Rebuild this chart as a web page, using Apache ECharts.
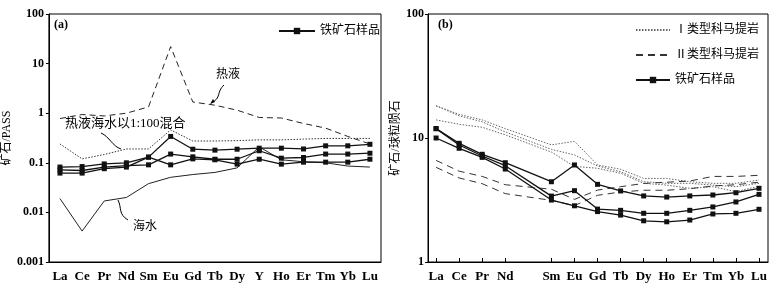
<!DOCTYPE html>
<html><head><meta charset="utf-8">
<script src="https://cdn.jsdelivr.net/npm/echarts@6/dist/echarts.min.js"></script>
<style>html,body{margin:0;padding:0;background:#fff}#c{width:777px;height:284px}</style>
</head><body><div id="c"></div>
<script>
// ---- Panel (a): PAAS-normalised ----
const REE_A = ['La','Ce','Pr','Nd','Sm','Eu','Gd','Tb','Dy','Y','Ho','Er','Tm','Yb','Lu'];
const yTicksA = ['0.001','0.01','0.1','1','10','100'];
const hydrothermal = [0.78,0.94,0.88,1.0,1.34,22,1.68,1.45,1.15,0.82,0.8,0.62,0.5,0.34,0.24];
const mixture = [0.24,0.12,0.147,0.19,0.19,0.46,0.275,0.275,0.28,0.29,0.29,0.30,0.31,0.31,0.31];
const seawater = [0.019,0.0042,0.017,0.020,0.038,0.051,0.058,0.064,0.079,0.21,0.115,0.105,0.1,0.086,0.082];
const oreA1 = [0.082,0.084,0.095,0.1,0.13,0.34,0.188,0.18,0.188,0.197,0.197,0.19,0.22,0.22,0.236];
const oreA2 = [0.072,0.07,0.082,0.088,0.091,0.15,0.132,0.118,0.118,0.175,0.124,0.128,0.15,0.15,0.156];
const oreA3 = [0.062,0.062,0.076,0.082,0.13,0.091,0.12,0.115,0.094,0.118,0.094,0.103,0.103,0.103,0.118];

// ---- Panel (b): chondrite-normalised ----
const REE_B = ['La','Ce','Pr','Nd','Sm','Eu','Gd','Tb','Dy','Ho','Er','Tm','Yb','Lu'];
const atomicB = [57,58,59,60,62,63,64,65,66,67,68,69,70,71];
const yTicksB = ['1','10','100'];
const komI1 = [18.2,15.5,14,11.9,8.8,9.4,6.06,5.6,4.72,4.72,4.44,4.31,4.31,4.58];
const komI2 = [18.2,15.1,13.5,11.2,8.1,7.3,5.95,5.35,4.44,4.31,4.31,4.17,4.05,4.31];
const komI3 = [14,12.9,12.2,10.6,7.7,5.9,5.7,5.2,4.31,4.17,3.93,4.05,3.69,4.09];
const komII1 = [6.6,5.4,4.9,4.2,3.86,3.2,3.8,4.05,4.3,4.4,4.5,4.9,4.9,5.0];
const komII2 = [5.8,4.76,4.28,3.56,3.14,2.85,3.45,3.67,3.79,3.79,3.9,4.1,4.2,4.4];
const oreB1 = [11.9,9.06,7.39,6.32,4.44,6.06,4.23,3.74,3.41,3.34,3.41,3.47,3.62,3.93];
const oreB2 = [11.9,8.78,7.16,5.98,3.4,3.76,2.67,2.61,2.47,2.47,2.61,2.78,3.05,3.51];
const oreB3 = [10,8.26,6.98,5.62,3.16,2.84,2.55,2.39,2.15,2.11,2.18,2.44,2.47,2.66];

const FONT = '"Liberation Serif","Noto Sans CJK SC",serif';
const chart = echarts.init(document.getElementById('c'), null, {renderer:'canvas'});
const pairB = arr => arr.map((v,i)=>[atomicB[i], v]);
const nameB = {}; atomicB.forEach((a,i)=>nameB[a]=REE_B[i]);

const oreStyle = (name, data, xi, yi) => ({
  name, type:'line', data, xAxisIndex:xi, yAxisIndex:yi,
  symbol:'rect', symbolSize:5, showSymbol:true,
  lineStyle:{color:'#111', width:1.3}, itemStyle:{color:'#111'}, z:5, silent:true, animation:false
});
const plain = (name, data, xi, yi, type, color, width) => ({
  name, type:'line', data, xAxisIndex:xi, yAxisIndex:yi, symbol:'none',
  lineStyle:{color, width, type}, itemStyle:{color}, silent:true, animation:false
});

const axisLabelStyle = {color:'#000', fontFamily:FONT, fontSize:13, fontWeight:'bold'};

chart.setOption({
  animation:false,
  grid:[
    {left:44, top:14, width:337, height:248, show:true, borderColor:'#000', borderWidth:1},
    {left:428, top:14, width:340, height:248, show:true, borderColor:'#000', borderWidth:1}
  ],
  xAxis:[
    {type:'category', gridIndex:0, data:REE_A, boundaryGap:true,
     axisLine:{lineStyle:{color:'#000'}},
     axisTick:{alignWithLabel:true, inside:true, length:4, lineStyle:{color:'#000'}},
     axisLabel:Object.assign({margin:8, interval:0}, axisLabelStyle)},
    {type:'value', gridIndex:1, min:56.65, max:71.39,
     axisLine:{lineStyle:{color:'#000'}},
     splitLine:{show:false},
     axisTick:{inside:true, length:4, customValues:atomicB, lineStyle:{color:'#000'}},
     axisLabel:Object.assign({margin:8, customValues:atomicB, formatter:v=>nameB[Math.round(v)]||''}, axisLabelStyle)}
  ],
  yAxis:[
    {type:'log', gridIndex:0, logBase:10, min:0.001, max:100,
     name:'矿石/PASS', nameLocation:'middle', nameRotate:90, nameGap:31,
     nameTextStyle:{color:'#000', fontFamily:FONT, fontSize:12},
     axisLine:{show:true, lineStyle:{color:'#000'}},
     axisTick:{show:true, length:3, lineStyle:{color:'#000'}},
     splitLine:{show:false}, minorTick:{show:false},
     axisLabel:Object.assign({margin:5, formatter:v=>{const e=Math.round(Math.log10(v)); return yTicksA[e+3];}}, axisLabelStyle, {fontSize:12})},
    {type:'log', gridIndex:1, logBase:10, min:1, max:100,
     name:'矿石/球粒陨石', nameLocation:'middle', nameRotate:90, nameGap:25,
     nameTextStyle:{color:'#000', fontFamily:FONT, fontSize:12},
     axisLine:{show:true, lineStyle:{color:'#000'}},
     axisTick:{show:true, length:3, lineStyle:{color:'#000'}},
     splitLine:{show:false},
     axisLabel:Object.assign({margin:4, formatter:v=>{const e=Math.round(Math.log10(v)); return yTicksB[e];}}, axisLabelStyle, {fontSize:12})}
  ],
  legend:[
    {data:['铁矿石样品'], left:278, top:25, padding:0, itemWidth:36, itemHeight:8, itemGap:4,
     textStyle:{color:'#000', fontFamily:FONT, fontSize:12}, selectedMode:false},
    {data:[{name:'Ⅰ类型科马提岩', itemStyle:{opacity:0}}, {name:'Ⅱ类型科马提岩', itemStyle:{opacity:0}}, '铁矿石样品B'],
     orient:'vertical', left:635, top:24, padding:0, itemWidth:34, itemHeight:8, itemGap:13,
     formatter:n=> n==='铁矿石样品B' ? '铁矿石样品' : n,
     textStyle:{color:'#000', fontFamily:FONT, fontSize:12}, selectedMode:false}
  ],
  graphic:[
    {type:'text', left:54, top:19, style:{text:'(a)', font:'bold 12px '+FONT, fill:'#000'}},
    {type:'text', left:438, top:19, style:{text:'(b)', font:'bold 12px '+FONT, fill:'#000'}},
    {type:'text', left:216, top:69, style:{text:'热液', font:'12px '+FONT, fill:'#000'}},
    {type:'text', left:65, top:117, style:{text:'热液海水以1:100混合', font:'13px '+FONT, fill:'#000'}},
    {type:'text', left:133, top:221, style:{text:'海水', font:'12px '+FONT, fill:'#000'}},
    {type:'bezierCurve', shape:{x1:224,y1:85,cpx1:216,cpy1:92,cpx2:222,cpy2:98,x2:211,y2:103}, style:{stroke:'#000', lineWidth:1, fill:null}},
    {type:'polygon', shape:{points:[[210,104],[213,99],[215,102]]}, style:{fill:'#000'}},
    {type:'bezierCurve', shape:{x1:101,y1:133,cpx1:110,cpy1:137,cpx2:112,cpy2:146,x2:121,y2:149}, style:{stroke:'#000', lineWidth:1, fill:null}},
    {type:'bezierCurve', shape:{x1:118,y1:200,cpx1:122,cpy1:208,cpx2:118,cpy2:214,x2:128,y2:220}, style:{stroke:'#000', lineWidth:1, fill:null}}
  ],
  series:[
    plain('热液', hydrothermal, 0, 0, [6,4], '#222', 1),
    plain('热液海水以1:100混合', mixture, 0, 0, [1.5,1.5], '#333', 1),
    plain('海水', seawater, 0, 0, 'solid', '#222', 1),
    oreStyle('铁矿石样品', oreA1, 0, 0),
    oreStyle('铁矿石样品', oreA2, 0, 0),
    oreStyle('铁矿石样品', oreA3, 0, 0),
    plain('Ⅰ类型科马提岩', pairB(komI1), 1, 1, [1.5,1.5], '#666', 1),
    plain('Ⅰ类型科马提岩', pairB(komI2), 1, 1, [1.5,1.5], '#666', 1),
    plain('Ⅰ类型科马提岩', pairB(komI3), 1, 1, [1.5,1.5], '#666', 1),
    plain('Ⅱ类型科马提岩', pairB(komII1), 1, 1, [7,5], '#333', 1),
    plain('Ⅱ类型科马提岩', pairB(komII2), 1, 1, [7,5], '#333', 1),
    oreStyle('铁矿石样品B', pairB(oreB1), 1, 1),
    oreStyle('铁矿石样品B', pairB(oreB2), 1, 1),
    oreStyle('铁矿石样品B', pairB(oreB3), 1, 1)
  ]
});
</script></body></html>
